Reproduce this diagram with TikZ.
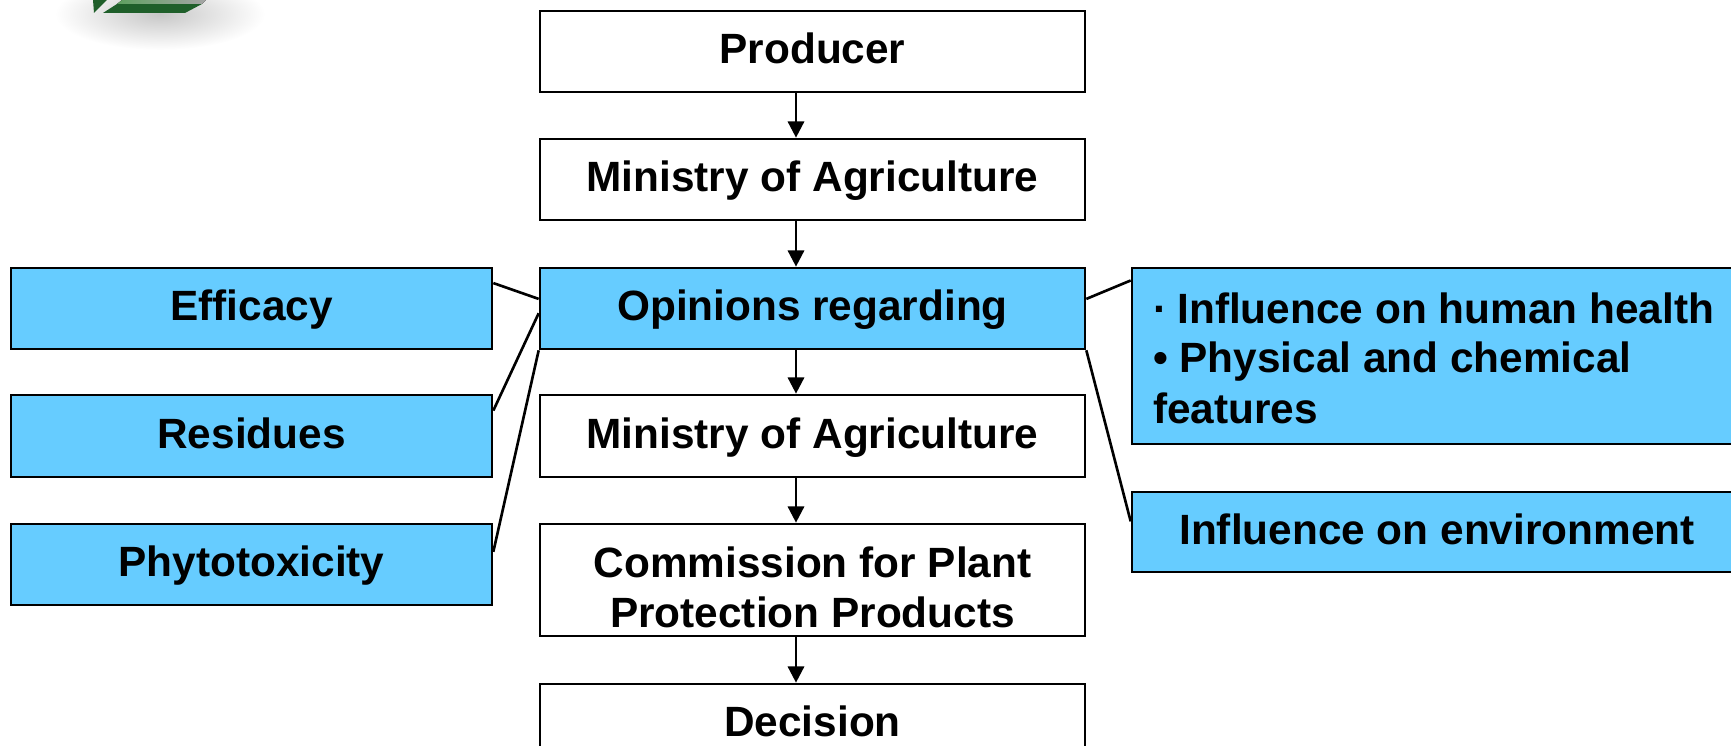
\documentclass[tikz,border=0pt]{standalone}
\usepackage{fontspec}
\setmainfont{Liberation Sans}
\usetikzlibrary{arrows.meta}

\definecolor{boxblue}{HTML}{66CCFF}
\definecolor{logodark}{HTML}{1F5F2A}
\definecolor{logolight}{HTML}{5FA060}
\tikzset{
  plainbox/.style={draw=black,line width=0.75pt,fill=white,rectangle,inner sep=0pt,align=center,
    font=\bfseries\fontsize{12.05}{14.4}\selectfont},
  bluebox/.style={plainbox,fill=boxblue},
  oneline/.style={text height=9.5pt,text depth=2.6pt},
  flow/.style={-{Triangle[width=4.6pt,length=4.6pt]},line width=0.75pt},
  link/.style={line width=0.75pt}
}

\begin{document}
\begin{tikzpicture}
          \path[use as bounding box,clip] (0,0) rectangle (17.31,7.46);
          % logo corner
          \shade[inner color=black!22,outer color=white] (1.6,7.32) ellipse [x radius=1.05,y radius=0.36];
          \fill[logodark] (0.93,7.46) -- (1.07,7.46) -- (0.94,7.33) -- cycle;
          \fill[logodark] (1.03,7.33) -- (1.85,7.33) -- (2.02,7.42) -- (1.17,7.42) -- cycle;
          \fill[left color=logolight,right color=black!35] (1.17,7.42) -- (2.02,7.42) -- (2.06,7.46) -- (1.22,7.46) -- cycle;
          % middle column
          \node[plainbox,oneline,minimum width=5.45cm,minimum height=0.81cm] (producer) at (8.125,6.945) {Producer};
          \node[plainbox,oneline,minimum width=5.45cm,minimum height=0.81cm] (ministrya) at (8.125,5.665) {Ministry of Agriculture};
          \node[bluebox,oneline,minimum width=5.45cm,minimum height=0.81cm] (opinions) at (8.125,4.375) {Opinions regarding};
          \node[plainbox,oneline,minimum width=5.45cm,minimum height=0.82cm] (ministryb) at (8.125,3.10) {Ministry of Agriculture};
          \node[plainbox,minimum width=5.45cm,minimum height=1.12cm] (commission) at (8.125,1.66)
            {\smash{\raisebox{-6.4pt}{Commission for Plant}}\\\smash{\raisebox{-6.4pt}{Protection Products}}};
          \node[plainbox,oneline,minimum width=5.45cm,minimum height=0.81cm] (decision) at (8.125,0.215) {Decision};
          % left column
          \node[bluebox,oneline,minimum width=4.81cm,minimum height=0.81cm] (efficacy) at (2.515,4.375) {Efficacy};
          \node[bluebox,oneline,minimum width=4.81cm,minimum height=0.82cm] (residues) at (2.515,3.10) {Residues};
          \node[bluebox,oneline,minimum width=4.81cm,minimum height=0.81cm] (phyto) at (2.515,1.815) {Phytotoxicity};
          % right column
          \node[bluebox,minimum width=6.03cm,minimum height=1.76cm,align=left] (human) at (14.335,3.90)
            {\rule{0pt}{10pt}·\hspace{-0.4pt} Influence on human health\\[-0.54pt]\textbullet\ Physical and chemical\\[0.1pt]features};
          \node[bluebox,oneline,minimum width=6.03cm,minimum height=0.80cm] (environ) at (14.335,2.14) {\hspace{0.07cm}Influence on environment};
          % arrows down the middle column
          \coordinate (spine) at (7.96,0);
          \draw[flow] (producer.south -| spine) -- (ministrya.north -| spine);
          \draw[flow] (ministrya.south -| spine) -- (opinions.north -| spine);
          \draw[flow] (opinions.south -| spine) -- (ministryb.north -| spine);
          \draw[flow] (ministryb.south -| spine) -- (commission.north -| spine);
          \draw[flow] (commission.south -| spine) -- (decision.north -| spine);
          % lines from the opinions box
          \draw[link] (efficacy.6) -- (opinions.178);
          \draw[link] (residues.6) -- (opinions.181.5);
          \draw[link] (phyto.3.5) -- (opinions.south west);
          \draw[link] (opinions.2) -- (human.166.4);
          \draw[link] (opinions.south east) -- (environ.178.3);
        \end{tikzpicture}
\end{document}
